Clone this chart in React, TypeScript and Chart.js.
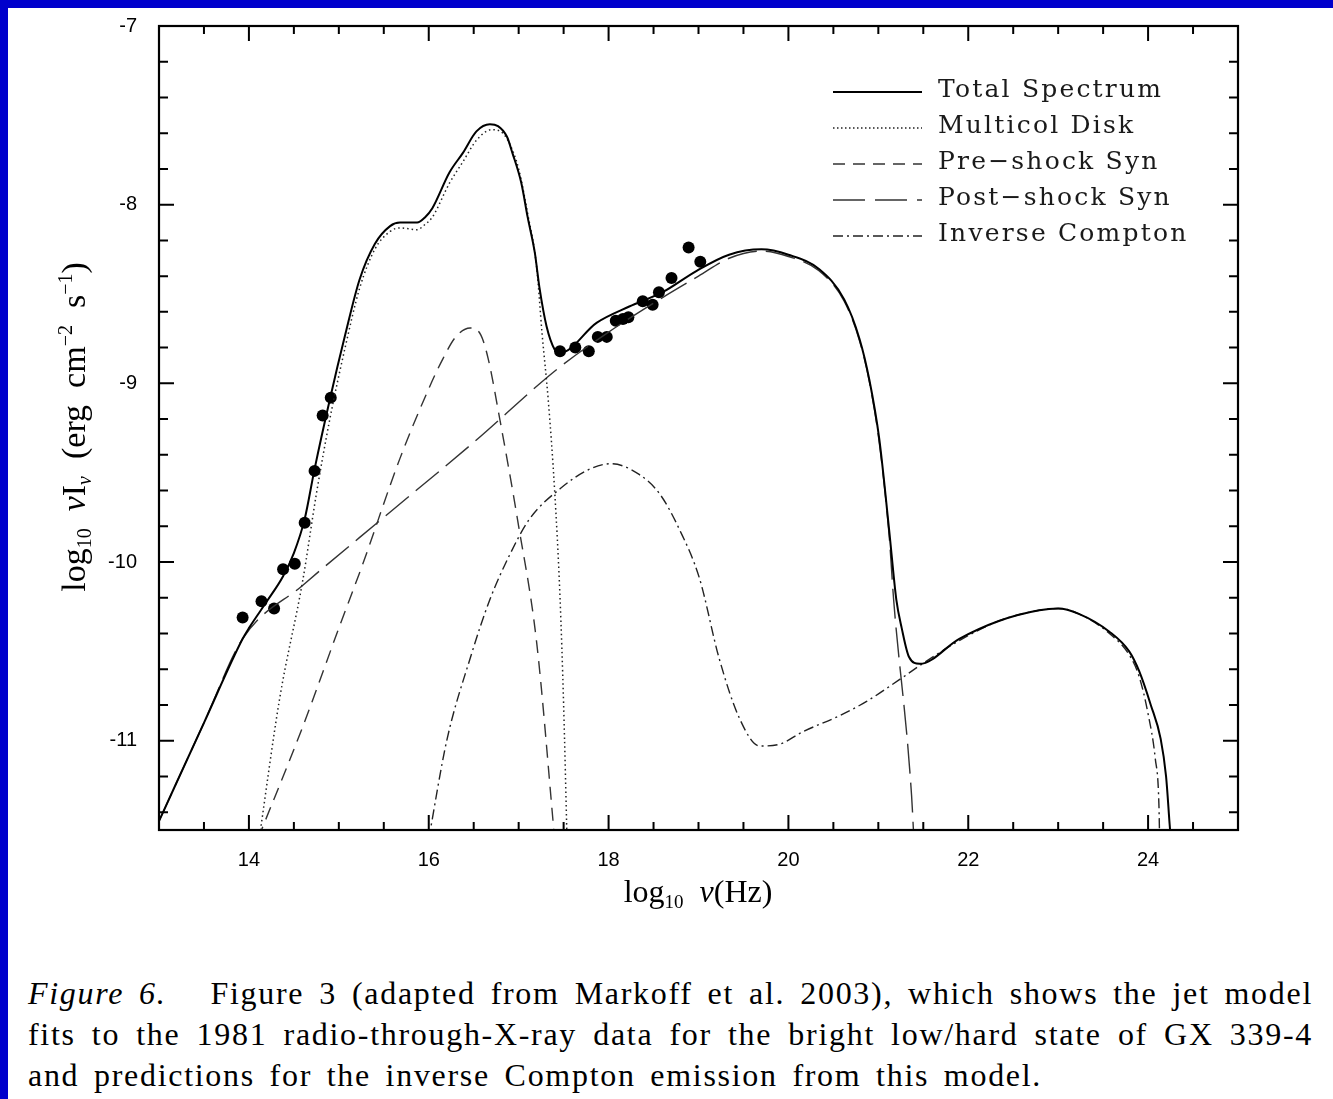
import React, { useEffect, useRef } from "react";
import { Chart, registerables } from "chart.js";

Chart.register(...registerables);

// ---------- data (log10 nu [Hz], log10 nu I_nu [erg cm^-2 s^-1]) ----------
const totalX = [13.0, 13.5, 13.93, 14.0, 14.2, 14.38, 14.5, 14.62, 14.73, 14.9, 15.07, 15.23, 15.4, 15.57, 15.68, 15.87, 15.96, 16.04, 16.23, 16.38, 16.53, 16.68, 16.77, 16.87, 16.93, 17.03, 17.1, 17.18, 17.23, 17.31, 17.4, 17.46, 17.87, 18.23, 18.6, 18.98, 19.34, 19.7, 20.0, 20.34, 20.62, 20.79, 20.9, 21.01, 21.12, 21.2, 21.26, 21.34, 21.46, 21.9, 22.34, 22.79, 23.0, 23.23, 23.57, 23.79, 23.9, 24.03, 24.14, 24.2, 24.24, 24.26];
const totalY = [-11.45, -10.9, -10.43, -10.37, -10.22, -10.08, -9.95, -9.76, -9.48, -9.09, -8.73, -8.42, -8.22, -8.12, -8.1, -8.1, -8.07, -8.02, -7.82, -7.71, -7.59, -7.55, -7.56, -7.62, -7.71, -7.88, -8.07, -8.27, -8.46, -8.68, -8.81, -8.83, -8.66, -8.57, -8.49, -8.37, -8.28, -8.25, -8.28, -8.36, -8.53, -8.75, -8.98, -9.31, -9.82, -10.21, -10.37, -10.53, -10.57, -10.43, -10.33, -10.27, -10.26, -10.29, -10.39, -10.5, -10.61, -10.8, -10.99, -11.2, -11.47, -11.6];

const diskX = [14.1, 14.34, 14.6, 14.75, 14.9, 15.07, 15.23, 15.4, 15.57, 15.68, 15.87, 15.96, 16.04, 16.23, 16.38, 16.53, 16.7, 16.8, 16.9, 17.0, 17.1, 17.2, 17.26, 17.33, 17.4, 17.46, 17.5, 17.54];
const diskY = [-11.6, -10.77, -10.1, -9.62, -9.2, -8.8, -8.47, -8.25, -8.15, -8.13, -8.14, -8.11, -8.07, -7.88, -7.76, -7.64, -7.58, -7.59, -7.66, -7.8, -8.05, -8.35, -8.72, -9.1, -9.6, -10.2, -10.8, -11.6];

const preX = [14.1, 14.6, 15.0, 15.26, 15.68, 16.0, 16.16, 16.3, 16.46, 16.58, 16.66, 16.79, 17.0, 17.2, 17.4];
const preY = [-11.55, -10.92, -10.37, -10.02, -9.42, -9.03, -8.86, -8.74, -8.69, -8.73, -8.86, -9.2, -9.8, -10.45, -11.55];

const postX = [13.0, 13.5, 13.93, 14.6, 15.5, 16.5, 17.43, 17.98, 18.6, 19.0, 19.34, 19.7, 20.0, 20.34, 20.62, 20.79, 20.9, 21.01, 21.12, 21.17, 21.37, 21.4];
const postY = [-11.45, -10.9, -10.43, -10.13, -9.75, -9.33, -8.92, -8.72, -8.52, -8.4, -8.3, -8.26, -8.29, -8.37, -8.54, -8.76, -8.99, -9.33, -9.85, -10.21, -11.31, -11.6];

const icX = [16.0, 16.2, 16.46, 16.68, 16.9, 17.12, 17.46, 17.79, 18.03, 18.34, 18.57, 18.79, 19.01, 19.23, 19.46, 19.68, 19.9, 20.16, 20.57, 20.87, 21.23, 21.49, 21.9, 22.34, 22.79, 23.0, 23.23, 23.57, 23.79, 23.9, 24.0, 24.08, 24.12, 24.13];
const icY = [-11.55, -11.0, -10.54, -10.21, -9.96, -9.76, -9.59, -9.48, -9.45, -9.51, -9.62, -9.82, -10.09, -10.54, -10.88, -11.03, -11.02, -10.95, -10.86, -10.78, -10.66, -10.57, -10.44, -10.33, -10.27, -10.26, -10.29, -10.4, -10.52, -10.64, -10.85, -11.1, -11.35, -11.6];

const obsX = [13.93, 14.14, 14.28, 14.38, 14.51, 14.62, 14.73, 14.82, 14.91, 17.46, 17.63, 17.78, 17.88, 17.98, 18.08, 18.16, 18.22, 18.38, 18.49, 18.56, 18.7, 18.89, 19.02];
const obsY = [-10.31, -10.22, -10.26, -10.04, -10.01, -9.78, -9.49, -9.18, -9.08, -8.82, -8.8, -8.82, -8.74, -8.74, -8.65, -8.64, -8.63, -8.54, -8.56, -8.49, -8.41, -8.24, -8.32];

const seriesNames = ["Total Spectrum", "Multicol Disk", "Pre\u2212shock Syn", "Post\u2212shock Syn", "Inverse Compton"];
const xTickLabels = [14, 16, 18, 20, 22, 24];
const yTickLabels = [-11, -10, -9, -8, -7];
const X_MIN = 13, X_MAX = 25, Y_MIN = -11.5, Y_MAX = -7;
const X_MINOR = 0.5, Y_MINOR = 0.2;

const pts = (xs: number[], ys: number[]) => xs.map((x, i) => ({ x, y: ys[i] }));

type Part = { t: string; size: number; dy: number; it?: boolean };
function drawRich(ctx: CanvasRenderingContext2D, parts: Part[], cx: number, y: number, family: string) {
  const fontOf = (p: Part) => `${p.it ? "italic " : ""}${p.size}px ${family}`;
  let w = 0;
  for (const p of parts) {
    ctx.font = fontOf(p);
    w += ctx.measureText(p.t).width;
  }
  let x = cx - w / 2;
  ctx.textAlign = "left";
  ctx.textBaseline = "alphabetic";
  for (const p of parts) {
    ctx.font = fontOf(p);
    ctx.fillText(p.t, x, y + p.dy);
    x += ctx.measureText(p.t).width;
  }
}

const SERIF = '"Liberation Serif", "Times New Roman", serif';

const decorPlugin = {
  id: "decor",
  afterDraw(chart: any) {
    const { ctx, chartArea: a, scales } = chart;
    const xs = scales.x, ys = scales.y;
    ctx.save();
    ctx.strokeStyle = "#000";
    ctx.fillStyle = "#000";
    // frame
    ctx.lineWidth = 2.2;
    ctx.strokeRect(a.left, a.top, a.right - a.left, a.bottom - a.top);
    ctx.lineWidth = 2;
    ctx.beginPath();
    const nx = Math.round((X_MAX - X_MIN) / X_MINOR);
    for (let i = 1; i < nx; i++) {
      const v = X_MIN + i * X_MINOR;
      const px = xs.getPixelForValue(v);
      const len = xTickLabels.includes(v) ? 15 : 8;
      ctx.moveTo(px, a.bottom); ctx.lineTo(px, a.bottom - len);
      ctx.moveTo(px, a.top); ctx.lineTo(px, a.top + len);
    }
    const ny = Math.round((Y_MAX - Y_MIN) / Y_MINOR);
    for (let i = 1; i <= ny; i++) {
      const v = +(Y_MAX - i * Y_MINOR).toFixed(4);
      if (v <= Y_MIN) break;
      const py = ys.getPixelForValue(v);
      const len = yTickLabels.includes(v) ? 15 : 9;
      ctx.moveTo(a.left, py); ctx.lineTo(a.left + len, py);
      ctx.moveTo(a.right, py); ctx.lineTo(a.right - len, py);
    }
    ctx.stroke();

    // x-axis title
    drawRich(ctx, [
      { t: "log", size: 32, dy: 0 },
      { t: "10", size: 19, dy: 6 },
      { t: "  ", size: 32, dy: 0 },
      { t: "\u03bd", size: 32, dy: 0, it: true },
      { t: "(Hz)", size: 32, dy: 0 },
    ], 690, 894, SERIF);

    // y-axis title
    ctx.save();
    ctx.translate(77, 419);
    ctx.rotate(-Math.PI / 2);
    drawRich(ctx, [
      { t: "log", size: 34, dy: 0 },
      { t: "10", size: 20, dy: 6 },
      { t: "  ", size: 34, dy: 0 },
      { t: "\u03bd", size: 34, dy: 0, it: true },
      { t: "I", size: 34, dy: 0 },
      { t: "\u03bd", size: 20, dy: 6, it: true },
      { t: "  (erg  cm", size: 34, dy: 0 },
      { t: "\u22122", size: 20, dy: -13 },
      { t: "  s", size: 34, dy: 0 },
      { t: "\u22121", size: 20, dy: -13 },
      { t: ")", size: 34, dy: 0 },
    ], 0, 0, SERIF);
    ctx.restore();

    // legend
    const ds = chart.data.datasets;
    for (let i = 0; i < seriesNames.length; i++) {
      const d = ds[i];
      const ly = 84 + i * 36;
      ctx.save();
      ctx.strokeStyle = d.borderColor;
      ctx.lineWidth = d.borderWidth;
      ctx.setLineDash(d.legendDash || d.borderDash || []);
      ctx.beginPath();
      ctx.moveTo(825, ly); ctx.lineTo(914, ly);
      ctx.stroke();
      ctx.restore();
      ctx.save();
      ctx.font = `25px "DejaVu Serif", serif`;
      (ctx as any).letterSpacing = "2.2px";
      ctx.fillStyle = "#1a1a1a";
      ctx.textAlign = "left";
      ctx.textBaseline = "alphabetic";
      ctx.fillText(seriesNames[i], 930, ly + 5);
      ctx.restore();
    }
    ctx.restore();
  },
};

export default function App() {
  const ref = useRef<HTMLCanvasElement | null>(null);
  useEffect(() => {
    if (!ref.current) return;
    const lineBase = { pointRadius: 0, fill: false, cubicInterpolationMode: "monotone" as const, borderCapStyle: "butt" as const };
    const chart = new Chart(ref.current, {
      type: "line",
      data: {
        datasets: [
          { ...lineBase, label: seriesNames[0], data: pts(totalX, totalY), borderColor: "#000", borderWidth: 2, borderDash: [] },
          { ...lineBase, label: seriesNames[1], data: pts(diskX, diskY), borderColor: "#222", borderWidth: 1.5, borderDash: [1.5, 3], legendDash: [1.5, 2.5] },
          { ...lineBase, label: seriesNames[2], data: pts(preX, preY), borderColor: "#333", borderWidth: 1.4, borderDash: [13, 8], legendDash: [12, 8] },
          { ...lineBase, label: seriesNames[3], data: pts(postX, postY), borderColor: "#333", borderWidth: 1.4, borderDash: [30, 9], legendDash: [32, 10] },
          { ...lineBase, label: seriesNames[4], data: pts(icX, icY), borderColor: "#222", borderWidth: 1.4, borderDash: [10, 4, 2, 4], legendDash: [10, 4, 2, 4] },
          { type: "scatter", label: "data", data: pts(obsX, obsY), showLine: false, pointRadius: 6, pointBackgroundColor: "#000", pointBorderColor: "#000", borderWidth: 0 } as any,
        ] as any,
      },
      options: {
        responsive: false,
        animation: false,
        devicePixelRatio: 1,
        layout: { padding: { left: 0, top: 18, right: 95, bottom: 0 } },
        plugins: { legend: { display: false }, tooltip: { enabled: false }, title: { display: false } },
        scales: {
          x: {
            type: "linear", min: X_MIN, max: X_MAX,
            afterBuildTicks: (s: any) => { s.ticks = xTickLabels.map((v) => ({ value: v })); },
            afterFit: (s: any) => { s.height = 103; s.paddingLeft = 0; s.paddingRight = 0; },
            ticks: { color: "#000", font: { family: '"Liberation Sans", Arial, sans-serif', size: 20 }, padding: 18, maxRotation: 0, autoSkip: false },
            grid: { display: false, drawTicks: false },
            border: { display: false },
          },
          y: {
            type: "linear", min: Y_MIN, max: Y_MAX,
            afterBuildTicks: (s: any) => { s.ticks = yTickLabels.map((v) => ({ value: v })); },
            afterFit: (s: any) => { s.width = 151; s.paddingTop = 0; s.paddingBottom = 0; },
            ticks: { color: "#000", font: { family: '"Liberation Sans", Arial, sans-serif', size: 20 }, padding: 22, autoSkip: false },
            grid: { display: false, drawTicks: false },
            border: { display: false },
          },
        },
      } as any,
      plugins: [decorPlugin],
    });
    return () => chart.destroy();
  }, []);

  const justified: React.CSSProperties = { textAlign: "justify", textAlignLast: "justify", whiteSpace: "nowrap" };
  return (
    <div style={{ position: "absolute", left: 0, top: 0, width: 1333, height: 1099, background: "#fff", overflow: "hidden" }}>
      <div style={{ position: "absolute", left: 0, top: 0, width: 1333, height: 8, background: "#0000CC" }} />
      <div style={{ position: "absolute", left: 0, top: 0, width: 8, height: 1099, background: "#0000CC" }} />
      <canvas ref={ref} width={1325} height={925} style={{ position: "absolute", left: 8, top: 8, width: 1325, height: 925 }} />
      <div style={{ position: "absolute", left: 28, top: 973, width: 1285, fontFamily: SERIF, fontSize: 32, lineHeight: "41px", letterSpacing: "1.7px", wordSpacing: "5px", color: "#000" }}>
        <div style={justified}>
          <i>Figure 6.</i><span style={{ display: "inline-block", width: 44 }} />Figure 3 (adapted from Markoff et al. 2003), which shows the jet model
        </div>
        <div style={justified}>
          fits to the 1981 radio-through-X-ray data for the bright low/hard state of GX 339-4
        </div>
        <div>and predictions for the inverse Compton emission from this model.</div>
      </div>
    </div>
  );
}
